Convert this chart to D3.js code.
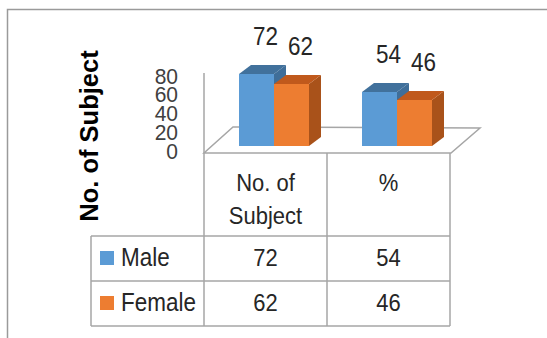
<!DOCTYPE html>
<html>
<head>
<meta charset="utf-8">
<script src="https://cdnjs.cloudflare.com/ajax/libs/d3/7.8.5/d3.min.js"></script>
<style>
  body { margin: 0; background: #fff; }
  svg { display: block; font-family: "Liberation Sans", Arial, sans-serif; }
</style>
</head>
<body>
<div id="chart"></div>
<script>
// Chart data
const categories = ["No. of Subject", "%"];
const categoryLines = [["No. of", "Subject"], ["%"]];
const seriesNames = ["Male", "Female"];
const maleValues = [72, 54];
const femaleValues = [62, 46];
const yTicks = [0, 20, 40, 60, 80];

const W = 547, H = 338;
const colors = { Male: "#5B9BD5", Female: "#ED7D31" };
const tops = { Male: "#41719C", Female: "#C0591C" };
const sides = { Male: "#3F6E99", Female: "#A9521A" };
const grid = "#a6a6a6";
const STRETCH = 1.12; // reference text is a bit taller than wide

const svg = d3.select("#chart").append("svg")
  .attr("width", W).attr("height", H);

// outer frame (cut off at right and bottom)
svg.append("path")
  .attr("d", `M7.5,${H} L7.5,9.5 L${W},9.5`)
  .attr("fill", "none").attr("stroke", "#9a9a9a").attr("stroke-width", 1.5);

// Scales
const x = d3.scaleBand().domain(categories).range([204, 450]);
const xSeries = d3.scaleBand().domain(seriesNames).range([35, 105]);
const yBar = d3.scaleLinear().domain([0, 80]).range([146, 66]);
const yTick = d3.scaleLinear().domain([0, 80]).range([151, 76]);
const DX = 12, DY = -9;           // bar depth
const FDX = 29, FDY = -25;        // floor depth

function text(g, tx, ty, s, size, anchor, opts = {}) {
  return g.append("text")
    .attr("transform", `translate(${tx},${ty}) rotate(${opts.rotate || 0}) scale(1,${opts.sy || STRETCH})`)
    .attr("text-anchor", anchor)
    .attr("font-size", size)
    .attr("font-weight", opts.bold ? "bold" : "normal")
    .attr("fill", opts.fill || "#262626")
    .text(s);
}

// floor
const x0 = x.range()[0], x1 = x.range()[1] + 1, fy = 153;
svg.append("path")
  .attr("d", `M${x0},${fy} L${x1},${fy} L${x1 + FDX},${fy + FDY} L${x0 + FDX},${fy + FDY - 1} Z`)
  .attr("fill", "#fff").attr("stroke", grid).attr("stroke-width", 1.5);

// vertical axis line
svg.append("line")
  .attr("x1", x0).attr("x2", x0).attr("y1", 73).attr("y2", fy)
  .attr("stroke", grid).attr("stroke-width", 1.5);

// tick labels
const tickG = svg.append("g");
yTicks.forEach(t => {
  text(tickG, 178, yTick(t) + 7.5, t, 21, "end", { sy: 1.05, fill: "#404040" });
});

// axis title
text(svg, 98, 136, "No. of Subject", 25.5, "middle", { rotate: -90, sy: 1, bold: true, fill: "#000" });

// bars
const barW = xSeries.bandwidth();
const series = [
  { name: "Male", values: maleValues },
  { name: "Female", values: femaleValues }
];
const barG = svg.append("g");
categories.forEach((c, i) => {
  series.forEach(s => {
    const v = s.values[i];
    const bx = x(c) + xSeries(s.name);
    const by = yBar(v), base = yBar(0);
    // side
    barG.append("path")
      .attr("d", `M${bx + barW},${by} L${bx + barW + DX},${by + DY} L${bx + barW + DX},${base + DY} L${bx + barW},${base} Z`)
      .attr("fill", sides[s.name]);
    // top
    barG.append("path")
      .attr("d", `M${bx},${by} L${bx + DX},${by + DY} L${bx + barW + DX},${by + DY} L${bx + barW},${by} Z`)
      .attr("fill", tops[s.name]);
    // front
    barG.append("rect")
      .attr("x", bx).attr("y", by).attr("width", barW).attr("height", base - by)
      .attr("fill", colors[s.name]);
  });
});

// data labels
categories.forEach((c, i) => {
  series.forEach(s => {
    const v = s.values[i];
    const cx = x(c) + xSeries(s.name) + barW / 2 + 9;
    text(svg, cx, yBar(v) - 29, v, 22.5, "middle", { fill: "#262626" });
  });
});

// data table
const rowY = [153, 236, 281, 326];
const tableG = svg.append("g").attr("stroke", grid).attr("stroke-width", 1.5);
x.domain().concat(["end"]).forEach((c, i) => {
  const lx = i < categories.length ? x(c) : x.range()[1];
  tableG.append("line").attr("x1", lx).attr("x2", lx).attr("y1", rowY[0]).attr("y2", rowY[3]);
});
rowY.slice(1).forEach(ry => {
  tableG.append("line").attr("x1", 91).attr("x2", x.range()[1]).attr("y1", ry).attr("y2", ry);
});
tableG.append("line").attr("x1", 91).attr("x2", 91).attr("y1", rowY[1]).attr("y2", rowY[3]);

// header labels
categories.forEach((c, i) => {
  const cx = x(c) + x.bandwidth() / 2;
  categoryLines[i].forEach((ln, j) => {
    text(svg, cx, 191 + j * 33, ln, 22, "middle");
  });
});

// legend rows + values
series.forEach((s, r) => {
  const top = rowY[r + 1];
  svg.append("rect")
    .attr("x", 100).attr("y", top + 15).attr("width", 14).attr("height", 14)
    .attr("fill", colors[s.name]);
  text(svg, 121, top + 30, s.name, 22.5, "start");
  categories.forEach((c, i) => {
    text(svg, x(c) + x.bandwidth() / 2, top + 30, s.values[i], 22, "middle");
  });
});
</script>
</body>
</html>
